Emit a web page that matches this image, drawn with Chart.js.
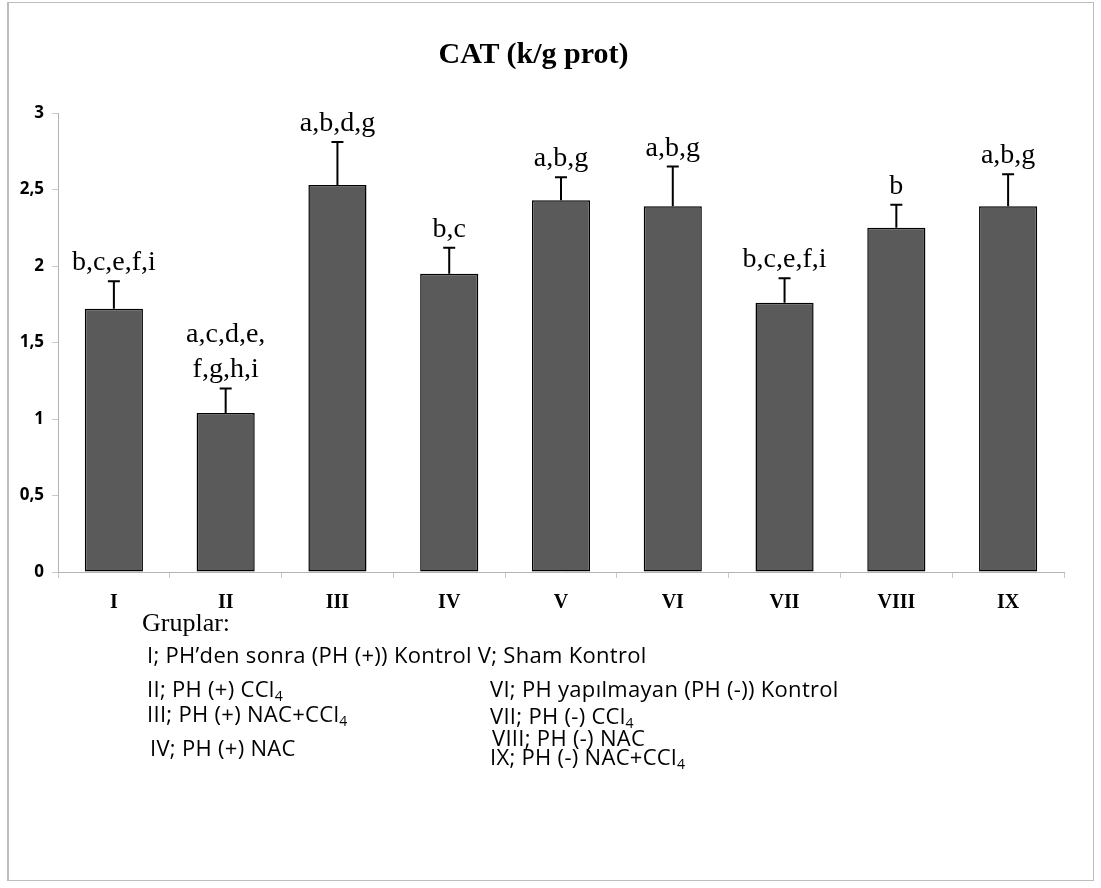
<!DOCTYPE html>
<html lang="tr">
  <head>
    <meta charset="UTF-8" />
    <title>CAT (k/g prot)</title>
    <script src="https://cdn.jsdelivr.net/npm/chart.js@4.4.1/dist/chart.umd.min.js"></script>
    <style>
      body { margin: 0; background: #fff; }
      #wrap { position: relative; width: 1101px; height: 888px; }
      #frame { position: absolute; left: 7px; top: 2px; width: 1087px; height: 879px; border: 1px solid #bdbdbd; border-left-width: 2px; box-sizing: border-box; }
      #baslik { position: absolute; left: 0; width: 1101px; top: 36px; text-align: center; font: bold 30px "Liberation Serif", serif; color: #000; padding-right: 34px; box-sizing: border-box; }
      .gr { position: absolute; font: 26px "Liberation Serif", serif; color: #000; }
      .ac { position: absolute; font: 22px "Open Sans", sans-serif; color: #000; white-space: nowrap; letter-spacing: 0.3px; }
      .ac sub { font-size: 14px; vertical-align: -4px; }
      canvas { position: absolute; left: 0; top: 0; }
    </style>
  </head>
  <body>
    <div id="wrap">
      <div id="frame"></div>
      <canvas id="grafik" width="1101" height="888"></canvas>
      <div id="baslik">CAT (k/g prot)</div>
      <div class="gr" style="left:142px; top:608px">Gruplar:</div>
      <div class="ac" style="left:147px; top:639px">I; PH’den sonra (PH (+)) Kontrol V; Sham Kontrol</div>
      <div class="ac" style="left:147px; top:673px">II; PH (+) CCl<sub>4</sub></div>
      <div class="ac" style="left:147px; top:698px">III; PH (+) NAC+CCl<sub>4</sub></div>
      <div class="ac" style="left:150px; top:732px">IV; PH (+) NAC</div>
      <div class="ac" style="left:490px; top:673px">VI; PH yapılmayan (PH (-)) Kontrol</div>
      <div class="ac" style="left:490px; top:700px">VII; PH (-) CCl<sub>4</sub></div>
      <div class="ac" style="left:492px; top:722px">VIII; PH (-) NAC</div>
      <div class="ac" style="left:490px; top:741px">IX; PH (-) NAC+CCl<sub>4</sub></div>
    </div>

<script>
  const gruplar = ["I", "II", "III", "IV", "V", "VI", "VII", "VIII", "IX"];
  const ortalama = [1.72, 1.04, 2.53, 1.95, 2.43, 2.39, 1.76, 2.25, 2.39];
  const hata = [0.18, 0.16, 0.28, 0.17, 0.15, 0.26, 0.16, 0.15, 0.21];
  const harfler = [
    ["b,c,e,f,i"],
    ["a,c,d,e,", "f,g,h,i"],
    ["a,b,d,g"],
    ["b,c"],
    ["a,b,g"],
    ["a,b,g"],
    ["b,c,e,f,i"],
    ["b"],
    ["a,b,g"],
  ];
  const yTikler = [0, 0.5, 1, 1.5, 2, 2.5, 3];

  // hata cubuklari + harfler
  const hataCubugu = {
    id: "hataCubugu",
    afterDatasetsDraw(chart) {
      const ctx = chart.ctx;
      const meta = chart.getDatasetMeta(0);
      const y = chart.scales.y;
      ctx.save();
      ctx.strokeStyle = "#000";
      ctx.lineWidth = 2;
      meta.data.forEach((bar, i) => {
        const ust = y.getPixelForValue(ortalama[i] + hata[i]);
        ctx.beginPath();
        ctx.moveTo(bar.x, bar.y);
        ctx.lineTo(bar.x, ust);
        ctx.moveTo(bar.x - 6, ust);
        ctx.lineTo(bar.x + 6, ust);
        ctx.stroke();

        ctx.fillStyle = "#000";
        ctx.font = '28px "Liberation Serif", serif';
        ctx.textAlign = "center";
        ctx.textBaseline = "alphabetic";
        const satirlar = harfler[i];
        satirlar.forEach((s, k) => {
          const yy = ust - 11 - (satirlar.length - 1 - k) * 35;
          ctx.fillText(s, bar.x, yy);
        });
      });
      ctx.restore();
    },
  };

  new Chart("grafik", {
    type: "bar",
    data: {
      labels: gruplar,
      datasets: [
        {
          data: ortalama,
          backgroundColor: "#5a5a5a",
          borderColor: "#000",
          borderWidth: 1.5,
          borderSkipped: false,
          categoryPercentage: 1,
          barPercentage: 0.52,
        },
      ],
    },
    options: {
      responsive: false,
      animation: false,
      layout: { padding: { left: 8, right: 37, top: 113, bottom: 271 } },
      plugins: { legend: { display: false }, tooltip: { enabled: false } },
      scales: {
        x: {
          afterFit(s) { s.height = 45; },
          grid: { offset: true, drawOnChartArea: false, tickLength: 6, color: "#c8c8c8" },
          border: { color: "#b4b4b4" },
          ticks: { color: "#000", padding: 13, font: { family: "Liberation Serif", size: 20, weight: "bold" } },
        },
        y: {
          min: 0,
          max: 3,
          afterFit(s) { s.width = 50; },
          afterBuildTicks(s) { s.ticks = yTikler.map((v) => ({ value: v })); },
          grid: { drawOnChartArea: false, tickLength: 6, color: "#c8c8c8" },
          border: { color: "#b4b4b4" },
          ticks: {
            color: "#000",
            padding: 8,
            font: { family: "Open Sans", size: 17, weight: "bold" },
            callback: (v) => String(v).replace(".", ","),
          },
        },
      },
    },
    plugins: [hataCubugu],
  });
</script>
  </body>
</html>
